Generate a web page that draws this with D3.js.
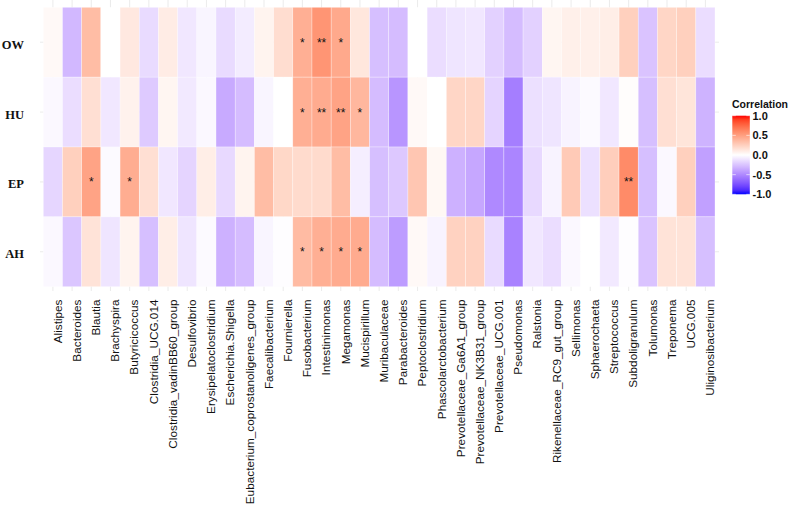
<!DOCTYPE html>
<html><head><meta charset="utf-8">
<script src="https://cdn.jsdelivr.net/npm/d3@7"></script>
<style>body{margin:0;background:#fff}svg{display:block}</style>
</head><body>
<svg id="chart" width="791" height="507"></svg>
<script>
const genera = ["Alistipes","Bacteroides","Blautia","Brachyspira","Butyricicoccus","Clostridia_UCG.014","Clostridia_vadinBB60_group","Desulfovibrio","Erysipelatoclostridium","Escherichia.Shigella","Eubacterium_coprostanoligenes_group","Faecalibacterium","Fournierella","Fusobacterium","Intestinimonas","Megamonas","Mucispirillum","Muribaculaceae","Parabacteroides","Peptoclostridium","Phascolarctobacterium","Prevotellaceae_Ga6A1_group","Prevotellaceae_NK3B31_group","Prevotellaceae_UCG.001","Pseudomonas","Ralstonia","Rikenellaceae_RC9_gut_group","Sellimonas","Sphaerochaeta","Streptococcus","Subdoligranulum","Tolumonas","Treponema","UCG.005","Uliginosibacterium"];
const groups = ["OW","HU","EP","AH"];

const valuesOW = [0.03,-0.30,0.35,0.00,0.12,-0.15,0.10,-0.10,-0.04,-0.15,-0.08,0.06,0.18,0.42,0.55,0.45,0.13,-0.27,-0.28,0.00,-0.14,-0.11,-0.10,-0.19,-0.28,-0.19,0.05,0.08,0.08,0.09,0.25,-0.25,0.22,0.25,-0.14];
const valuesHU = [-0.03,-0.14,0.17,-0.10,0.07,-0.22,0.05,-0.09,-0.03,-0.36,-0.28,-0.04,0.00,0.42,0.44,0.48,0.38,-0.28,-0.45,0.03,0.00,0.22,0.22,-0.18,-0.55,-0.13,-0.11,-0.05,-0.02,-0.10,0.01,-0.27,0.17,0.14,-0.32];
const valuesEP = [-0.17,0.25,0.48,-0.02,0.43,0.17,-0.10,-0.18,0.09,-0.16,0.06,0.35,0.21,0.19,0.19,0.35,-0.07,-0.27,-0.23,0.30,0.04,-0.33,-0.37,-0.50,-0.52,-0.16,-0.05,0.28,-0.13,0.26,0.60,-0.27,-0.03,0.25,-0.40];
const valuesAH = [-0.03,-0.24,0.15,-0.11,0.06,-0.27,0.09,-0.11,-0.02,-0.33,-0.28,-0.04,-0.01,0.36,0.42,0.44,0.44,-0.28,-0.42,0.03,-0.05,0.24,0.24,-0.15,-0.53,-0.10,-0.14,-0.03,0.00,-0.09,-0.01,-0.25,0.15,0.15,-0.27];

const signifOW = {"Fusobacterium":"*","Intestinimonas":"**","Megamonas":"*"};
const signifHU = {"Fusobacterium":"*","Intestinimonas":"**","Megamonas":"**","Mucispirillum":"*"};
const signifEP = {"Blautia":"*","Butyricicoccus":"*","Subdoligranulum":"**"};
const signifAH = {"Fusobacterium":"*","Intestinimonas":"*","Megamonas":"*","Mucispirillum":"*"};

const legendTicks = [1.0, 0.5, 0.0, -0.5, -1.0];

const rowValues = {OW: valuesOW, HU: valuesHU, EP: valuesEP, AH: valuesAH};
const rowSignif = {OW: signifOW, HU: signifHU, EP: signifEP, AH: signifAH};
const cells = [];
groups.forEach(g => genera.forEach((c, i) => cells.push({g, c, v: rowValues[g][i], s: rowSignif[g][c] || ""})));

const svg = d3.select("#chart");
const x = d3.scaleBand().domain(genera).range([43.3, 715]);
const y = d3.scaleBand().domain(groups).range([7.3, 286.7]);
const color = d3.scaleLinear().domain([-1, 0, 1]).range(["blue", "white", "red"]).interpolate(d3.interpolateLab);

// grid
const grid = svg.append("g").attr("stroke", "#e6e6e6").attr("stroke-width", 0.8);
genera.forEach(c => grid.append("line").attr("x1", x(c) + x.bandwidth()/2).attr("x2", x(c) + x.bandwidth()/2).attr("y1", 0).attr("y2", 291));
groups.forEach(g => grid.append("line").attr("y1", y(g) + y.bandwidth()/2).attr("y2", y(g) + y.bandwidth()/2).attr("x1", 40).attr("x2", 719));

// tiles
svg.append("g").selectAll("rect").data(cells).join("rect")
  .attr("x", d => x(d.c)).attr("y", d => y(d.g))
  .attr("width", x.bandwidth()).attr("height", y.bandwidth())
  .attr("fill", d => color(d.v))
  .attr("stroke", "#ffffff").attr("stroke-opacity", 0.5).attr("stroke-width", 0.6);

// stars
svg.append("g").selectAll("text").data(cells.filter(d => d.s)).join("text")
  .attr("x", d => x(d.c) + x.bandwidth()/2)
  .attr("y", d => y(d.g) + y.bandwidth()/2 + 4.5)
  .attr("text-anchor", "middle")
  .attr("font-family", "Liberation Sans, Arial, sans-serif")
  .attr("font-size", 12).attr("fill", "#111")
  .text(d => d.s);

// y axis labels
svg.append("g").selectAll("text").data(groups).join("text")
  .attr("x", 24).attr("y", g => y(g) + y.bandwidth()/2 + 6.5)
  .attr("text-anchor", "end")
  .attr("font-family", "Liberation Serif, Times New Roman, serif")
  .attr("font-weight", "bold").attr("font-size", 12.5).attr("fill", "#111")
  .text(g => g);

// x axis labels (font size fitted so the longest label spans ~205px)
const xl = svg.append("g").selectAll("text").data(genera).join("text")
  .attr("transform", c => `translate(${x(c) + x.bandwidth()/2 + 0.3},299.5) rotate(-90)`)
  .attr("dy", "0.72em")
  .attr("text-anchor", "end")
  .attr("font-family", "Liberation Sans, Arial, sans-serif")
  .attr("font-size", 12).attr("fill", "#111")
  .text(c => c);
let maxLen = 0;
xl.each(function() { maxLen = Math.max(maxLen, this.getComputedTextLength()); });
if (maxLen > 0) xl.attr("font-size", Math.min(12.5, 12 * 205 / maxLen));

// legend
const lg = svg.append("g");
const defs = svg.append("defs");
const grad = defs.append("linearGradient").attr("id", "lgrad").attr("x1", 0).attr("x2", 0).attr("y1", 1).attr("y2", 0);
d3.range(0, 1.0001, 0.05).forEach(t => grad.append("stop").attr("offset", t).attr("stop-color", color(-1 + 2*t)));
const ly = d3.scaleLinear().domain([-1, 1]).range([194.3, 115.7]);
lg.append("text").attr("x", 732).attr("y", 107.5)
  .attr("font-family", "Liberation Sans, Arial, sans-serif")
  .attr("font-weight", "bold").attr("font-size", 10.5).attr("fill", "#111")
  .text("Correlation");
lg.append("rect").attr("x", 732.3).attr("y", ly(1)).attr("width", 17.5).attr("height", ly(-1) - ly(1)).attr("fill", "url(#lgrad)");
legendTicks.forEach(t => {
  lg.append("line").attr("x1", 732.3).attr("x2", 735.8).attr("y1", ly(t)).attr("y2", ly(t)).attr("stroke", "white").attr("stroke-width", 0.6);
  lg.append("line").attr("x1", 746.3).attr("x2", 749.8).attr("y1", ly(t)).attr("y2", ly(t)).attr("stroke", "white").attr("stroke-width", 0.6);
  lg.append("text").attr("x", 752.5).attr("y", ly(t) + 4)
    .attr("font-family", "Liberation Sans, Arial, sans-serif")
    .attr("font-weight", "bold").attr("font-size", 11).attr("fill", "#111")
    .text(t.toFixed(1));
});
</script>
</body></html>
